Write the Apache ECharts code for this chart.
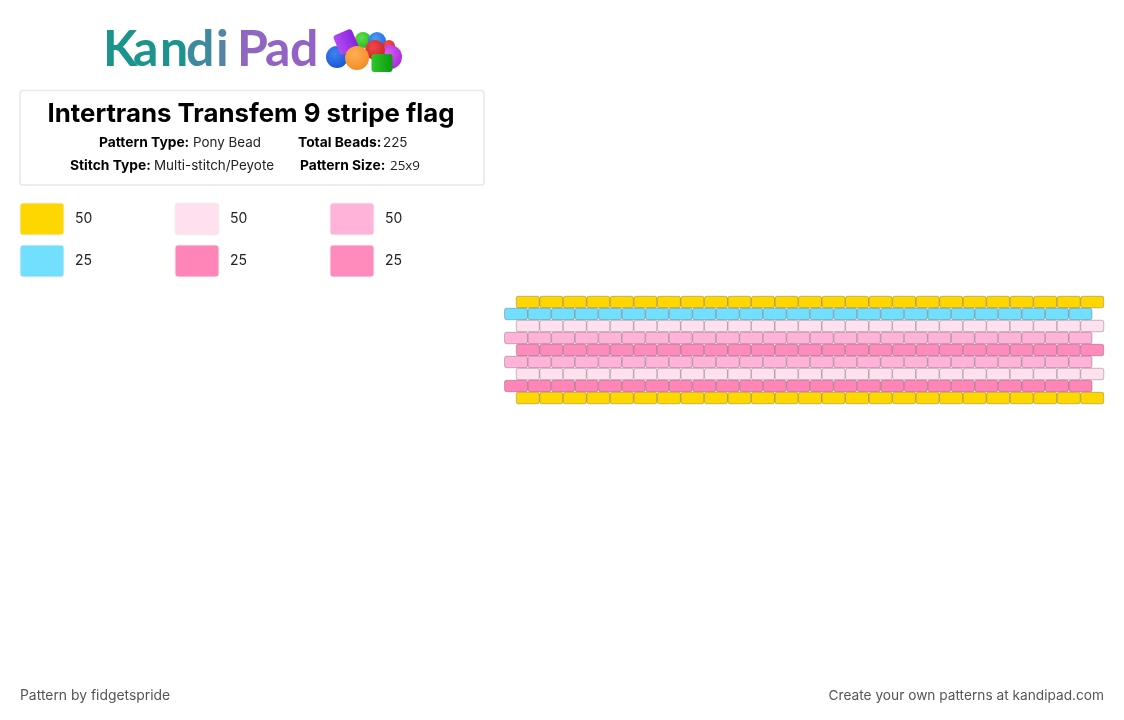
<!DOCTYPE html>
<html>
<head>
<meta charset="utf-8">
<style>html,body{margin:0;padding:0;background:#fff}#chart{width:1124px;height:720px}</style>
<script src="https://cdn.jsdelivr.net/npm/echarts@6/dist/echarts.min.js"></script>
</head>
<body>
<div id="chart"></div>
<script>
// pattern data, top row first
const stripes = ['yellow', 'blue', 'pale', 'light', 'rose', 'light', 'pale', 'pink', 'yellow'];
const stripeShift = [0.5, 0, 0.5, 0, 0.5, 0, 0.5, 0, 0.5];
const beadsPerRow = 25;
const legendBeads = ['yellow', 'pale', 'light', 'blue', 'pink', 'rose'];
const legendCounts = [50, 50, 50, 25, 25, 25];
const legendColumns = [0, 1, 2, 0, 1, 2];
const legendRows = [0, 0, 0, 1, 1, 1];

const colours = {
  yellow: '#FFD700', blue: '#73DFFF', pale: '#FFE0EE',
  light: '#FFB3D9', pink: '#FF85B8', rose: '#FF8ABC'
};
const font = 'Inter, "Open Sans", sans-serif';

let beads = [];
stripes.forEach((name, row) => {
  for (let i = 0; i < beadsPerRow; i++) {
    beads.push([i + stripeShift[row], row, name]);
  }
});

function renderBead(params, api) {
  let p = api.coord([api.value(0), api.value(1)]);
  let s = api.size([1, 1]);
  return {
    type: 'rect',
    shape: { x: p[0] + 0.25, y: p[1] + 0.25, width: s[0] - 0.5, height: s[1] - 0.5, r: 2 },
    style: { fill: colours[beads[params.dataIndex][2]], stroke: 'rgba(70,50,50,0.3)', lineWidth: 1 }
  };
}

function renderSwatch(params, api) {
  let p = api.coord([api.value(0), api.value(1)]);
  let name = legendBeads[params.dataIndex];
  return {
    type: 'group',
    children: [
      {
        type: 'rect',
        shape: { x: p[0] - 22, y: p[1] - 16, width: 44, height: 32, r: 3 },
        style: { fill: colours[name], stroke: '#f0f0f0', lineWidth: 1 }
      },
      {
        type: 'text',
        style: {
          x: p[0] + 33, y: p[1], text: String(api.value(2)), fill: '#222',
          font: '14px ' + font, verticalAlign: 'middle'
        }
      }
    ]
  };
}

// logo letters, faded from teal to purple
const logoLetters = ['K', 'a', 'n', 'd', 'i', 'P', 'a', 'd'];
const logoColours = ['#1B958C', '#1B958C', '#1C938E', '#3F8A9C', '#5584A8', '#8F67C0', '#9263C4', '#9263C4'];
const logoX = [103, 133, 160, 186, 216, 237, 265, 290];

let logo = logoLetters.map((ch, i) => ({
  type: 'text', x: logoX[i], y: 50,
  style: { text: ch, fill: logoColours[i], font: '700 50px Lato, ' + font, verticalAlign: 'middle' }
}));

function ball(x, y, r, inner, outer) {
  return {
    type: 'circle', shape: { cx: x, cy: y, r: r },
    style: { fill: new echarts.graphic.RadialGradient(0.4, 0.35, 0.75, [{ offset: 0, color: inner }, { offset: 1, color: outer }]) }
  };
}
function block(x, y, w, h, rot, c1, c2) {
  return {
    type: 'rect', x: x, y: y, rotation: rot, shape: { x: -w / 2, y: -h / 2, width: w, height: h, r: 3 },
    style: { fill: new echarts.graphic.LinearGradient(0, 0, 1, 0, [{ offset: 0, color: c1 }, { offset: 1, color: c2 }]) }
  };
}
let pile = [
  ball(363, 40, 8, '#5fe04a', '#22b41f'),
  ball(377, 41, 9, '#4d9cf5', '#1e62d8'),
  ball(389, 46, 6, '#f55050', '#d92525'),
  ball(390, 57, 12, '#d860f0', '#a524d8'),
  ball(375, 50, 10, '#f04848', '#c82020'),
  ball(337, 57, 11, '#3c84f2', '#1a4fd0'),
  block(346, 42, 20, 21, 0.4, '#b44cf0', '#8a22e0'),
  ball(357, 58, 12, '#ffae55', '#f08a20'),
  block(382, 63, 21, 18, 0, '#2fc62a', '#0c9a10')
];

function infoRow(y, bold, bx, plain, px, plainFont) {
  return [
    { type: 'text', x: bx, y: y, style: { text: bold, fill: '#000', font: '700 13.8px ' + font, verticalAlign: 'middle' } },
    { type: 'text', x: px, y: y, style: { text: plain, fill: '#222', font: '13.4px ' + (plainFont || font), verticalAlign: 'middle' } }
  ];
}

let option = {
  animation: false,
  title: {
    text: 'Intertrans Transfem 9 stripe flag',
    left: 246, top: 96, textAlign: 'center',
    textStyle: { fontFamily: font, fontWeight: 700, fontSize: 25.8, color: '#000' }
  },
  grid: [
    { left: 504.3, top: 296, width: 599.7, height: 108 },
    { left: 42, top: 219, width: 310, height: 42 }
  ],
  xAxis: [
    { type: 'value', gridIndex: 0, min: 0, max: 25.5, show: false },
    { type: 'value', gridIndex: 1, min: 0, max: 2, show: false }
  ],
  yAxis: [
    { type: 'value', gridIndex: 0, min: 0, max: 9, inverse: true, show: false },
    { type: 'value', gridIndex: 1, min: 0, max: 1, inverse: true, show: false }
  ],
  series: [
    {
      type: 'custom', xAxisIndex: 0, yAxisIndex: 0, renderItem: renderBead,
      data: beads.map(b => [b[0], b[1]]), clip: false, silent: true
    },
    {
      type: 'custom', xAxisIndex: 1, yAxisIndex: 1, renderItem: renderSwatch,
      data: legendCounts.map((c, i) => [legendColumns[i], legendRows[i], c]), clip: false, silent: true
    }
  ],
  graphic: [
    {
      type: 'rect', z: -1,
      shape: { x: 20, y: 90.5, width: 464, height: 94.5, r: 3 },
      style: { fill: '#fff', stroke: '#e8e8e8', lineWidth: 1.5 }
    },
    ...logo,
    ...pile,
    ...infoRow(143, 'Pattern Type:', 99, 'Pony Bead', 193),
    ...infoRow(143, 'Total Beads:', 298, '225', 383),
    ...infoRow(166, 'Stitch Type:', 70, 'Multi-stitch/Peyote', 154),
    ...infoRow(166, 'Pattern Size:', 300, '25x9', 390, '"Open Sans", sans-serif'),
    { type: 'text', x: 20, y: 696, style: { text: 'Pattern by fidgetspride', fill: '#555', font: '13.9px ' + font, verticalAlign: 'middle' } },
    { type: 'text', x: 1104, y: 696, style: { text: 'Create your own patterns at kandipad.com', fill: '#555', font: '13.7px ' + font, align: 'right', verticalAlign: 'middle' } }
  ]
};

let myChart = echarts.init(document.getElementById('chart'));
myChart.setOption(option);
</script>
</body>
</html>
